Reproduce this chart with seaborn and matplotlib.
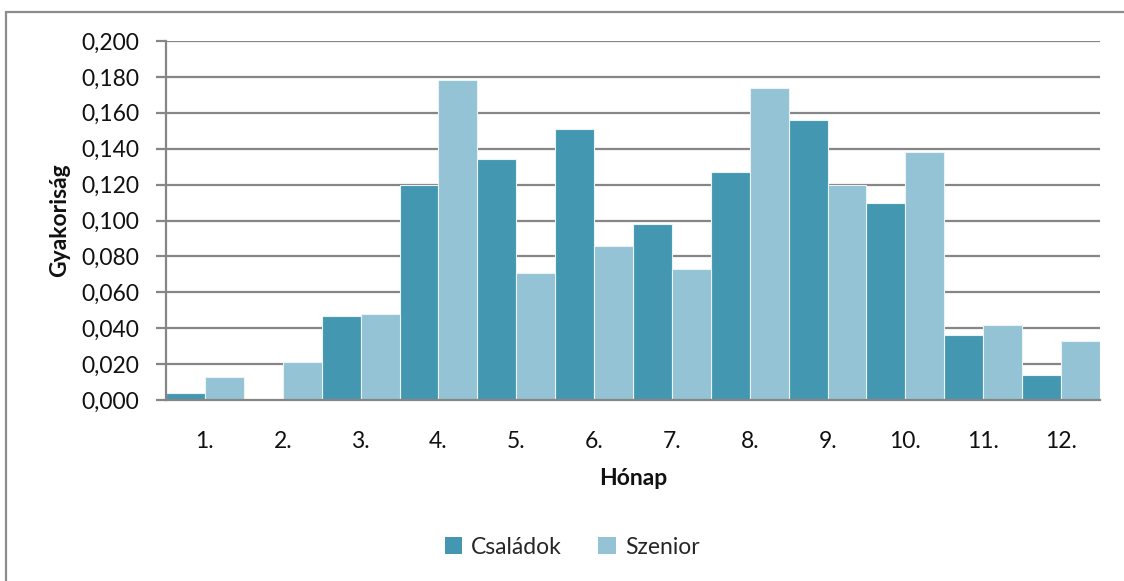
import matplotlib
matplotlib.use("Agg")
import matplotlib.pyplot as plt
from matplotlib.lines import Line2D
from matplotlib.patches import Patch
import seaborn as sns
import pandas as pd
import numpy as np

# Monthly relative frequencies for the two customer groups
months = ["1.", "2.", "3.", "4.", "5.", "6.", "7.", "8.", "9.", "10.", "11.", "12."]
csaladok = [0.004, 0.000, 0.047, 0.120, 0.134, 0.151, 0.098, 0.127, 0.156, 0.110, 0.036, 0.014]
szenior = [0.013, 0.021, 0.048, 0.178, 0.071, 0.086, 0.073, 0.174, 0.120, 0.138, 0.042, 0.033]
series_names = ["Családok", "Szenior"]
colors = ["#4397B0", "#93C3D5"]

df = pd.DataFrame({
    "Hónap": months * 2,
    "Gyakoriság": csaladok + szenior,
    "Csoport": [series_names[0]] * len(months) + [series_names[1]] * len(months),
})

sns.set_theme(style="white")
plt.rcParams["font.family"] = ["Lato", "DejaVu Sans"]

FS = 16.5
W, H = 1124, 581
fig = plt.figure(figsize=(W / 100, H / 100), dpi=100)
ax = fig.add_axes([166 / W, 1 - 400 / H, (1100 - 166) / W, (400 - 41) / H])

sns.barplot(data=df, x="Hónap", y="Gyakoriság", hue="Csoport",
            palette=colors, saturation=1, width=1.0, gap=0, ax=ax, legend=False,
            edgecolor="#EAF3F6", linewidth=0.8, zorder=3)

grid_c = "#868686"
ax.set_ylim(0, 0.2)
ax.set_xlim(-0.5, len(months) - 0.5)
yt = np.arange(0, 0.2001, 0.02)
ax.set_yticks(yt)
ax.set_yticklabels([f"{v:.3f}".replace(".", ",") for v in yt], fontsize=FS, color="#111111")
for v in yt[1:]:
    ax.axhline(v, color=grid_c, lw=1.6, zorder=1)

ax.set_xticks(np.arange(len(months)))
ax.set_xticklabels(months, fontsize=FS, color="#111111")
ax.tick_params(axis="x", which="major", length=0, pad=22)
ax.set_xticks(np.arange(-0.5, len(months)), minor=True)
ax.tick_params(axis="x", which="minor", length=7, width=1.6, color=grid_c, direction="out")
ax.tick_params(axis="y", length=7, width=1.6, color=grid_c, direction="out", left=True, pad=12)

for s in ["top", "right"]:
    ax.spines[s].set_visible(False)
for s in ["left", "bottom"]:
    ax.spines[s].set_color(grid_c)
    ax.spines[s].set_linewidth(1.6)
    ax.spines[s].set_zorder(4)

ax.set_xlabel("Hónap", fontsize=FS, fontweight="bold", labelpad=12, color="#111111")
ax.set_ylabel("Gyakoriság", fontsize=FS, fontweight="bold", labelpad=8, color="#111111")

handles = [Patch(facecolor=c, edgecolor="none") for c in colors]
fig.legend(handles, series_names, loc="center", bbox_to_anchor=(572 / W, 1 - 547 / H),
           ncol=2, frameon=False, fontsize=FS, handlelength=0.75, handleheight=0.75,
           handletextpad=0.4, columnspacing=1.6)

# chart frame (left and top edges)
fig.add_artist(Line2D([6.5 / W, 6.5 / W], [0, 1 - 12 / H], transform=fig.transFigure,
                      color="#8C8C8C", lw=1.6))
fig.add_artist(Line2D([6.5 / W, 1], [1 - 12 / H, 1 - 12 / H], transform=fig.transFigure,
                      color="#8C8C8C", lw=1.6))

fig.savefig("out.png", dpi=100, facecolor="white")
